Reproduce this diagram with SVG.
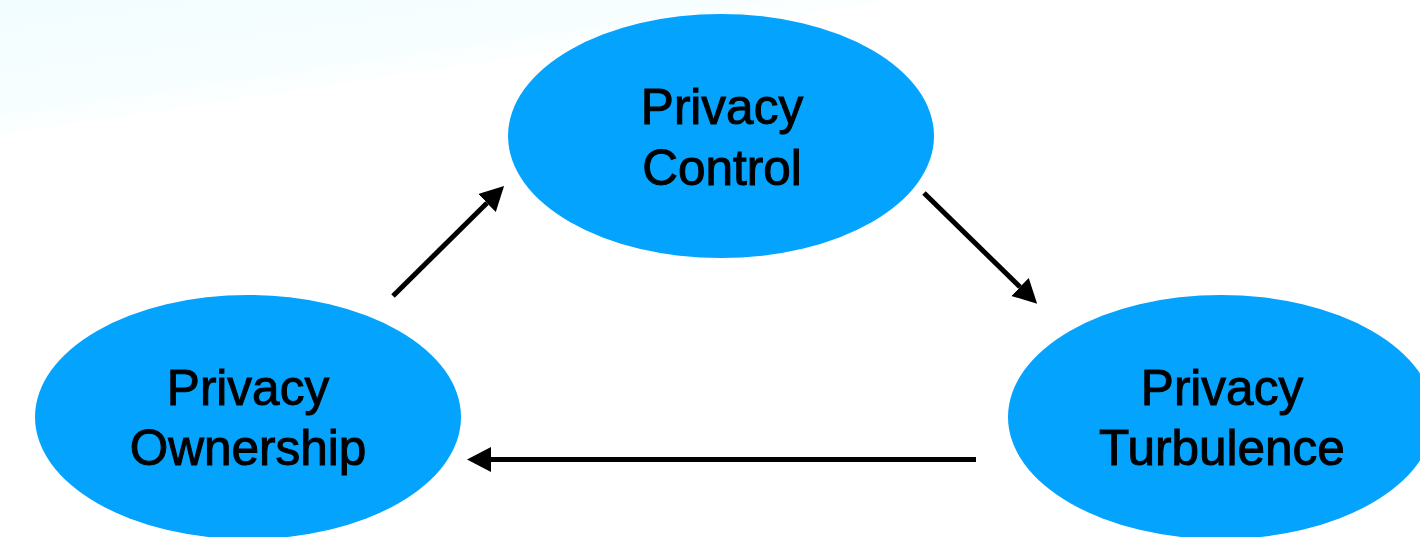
<svg xmlns="http://www.w3.org/2000/svg" width="1420" height="537" viewBox="0 0 1420 537">
  <style>
    .node ellipse { fill: #03A3FE; }
    .node text { font-family: "Liberation Sans", Arial, Helvetica, sans-serif; font-size: 49.5px; fill: #000; stroke: #000; stroke-width: 1; text-anchor: middle; }
    .edge { stroke: #000; stroke-width: 5; fill: none; marker-end: url(#head); }
  </style>
  <defs>
    <marker id="head" markerUnits="userSpaceOnUse" markerWidth="25" markerHeight="26" refX="0" refY="12.5" orient="auto">
      <path d="M0,0 L24,12.5 L0,25 Z" fill="#000"/>
    </marker>
    <!-- soft wash that fades out toward its diagonal edge -->
    <linearGradient id="haze" gradientUnits="userSpaceOnUse" x1="0" y1="0" x2="19.8" y2="132">
      <stop offset="0" stop-color="#F2FDFF"/>
      <stop offset="0.8" stop-color="#F7FEFF"/>
      <stop offset="1" stop-color="#FDFFFF"/>
    </linearGradient>
  </defs>

  <rect width="1420" height="537" fill="#fff"/>
  <polygon points="0,0 900,0 0,135" fill="url(#haze)"/>

  <g id="connectors">
    <line class="edge" x1="393" y1="296" x2="487" y2="203"/>
    <line class="edge" x1="924" y1="193" x2="1020" y2="287"/>
    <line class="edge" x1="976" y1="459.5" x2="491" y2="459.5"/>
  </g>

  <g id="privacy-control" class="node">
    <ellipse cx="721" cy="136" rx="213" ry="122"/>
    <text x="722" y="124">Privacy</text>
    <text x="722" y="185">Control</text>
  </g>

  <g id="privacy-ownership" class="node">
    <ellipse cx="248" cy="417" rx="213" ry="122"/>
    <text x="248" y="405">Privacy</text>
    <text x="248" y="465">Ownership</text>
  </g>

  <g id="privacy-turbulence" class="node">
    <ellipse cx="1221" cy="417" rx="213" ry="122"/>
    <text x="1222" y="405">Privacy</text>
    <text x="1222" y="465">Turbulence</text>
  </g>
</svg>
